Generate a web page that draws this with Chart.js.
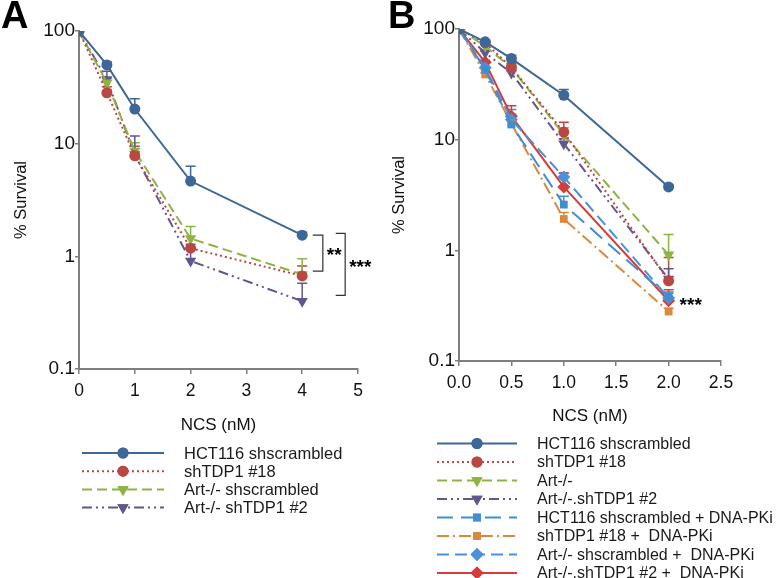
<!DOCTYPE html>
<html>
<head>
<meta charset="utf-8">
<script src="https://cdn.jsdelivr.net/npm/chart.js@4.4.1/dist/chart.umd.min.js"></script>
<style>
  body { margin: 0; background: #fff; width: 777px; height: 578px; overflow: hidden; position: relative; font-family: "Liberation Sans", Arial, sans-serif; }
  .wrap { position: absolute; top: 0; height: 578px; }
  .letter { position: absolute; top: -6px; font-size: 38px; font-weight: bold; color: #000; }
</style>
</head>
<body>
<div class="wrap" style="left:0;width:388px"><canvas id="chartA" width="388" height="578"></canvas></div>
<div class="wrap" style="left:388px;width:389px"><canvas id="chartB" width="389" height="578"></canvas></div>
<div class="letter" style="left:1px">A</div>
<div class="letter" style="left:388px">B</div>
<script>
// ---- data: panel A ----
var doseA = [0, 0.5, 1, 2, 4];
var labelsA = ["HCT116 shscrambled", "shTDP1 #18", "Art-/- shscrambled", "Art-/- shTDP1 #2"];
var hctA = [100, 50, 20.3, 4.66, 1.54];
var hctAerr = [100, 53, 25, 6.3, 1.64];
var tdpA = [100, 28.3, 7.8, 1.18, 0.67];
var tdpAerr = [100, 32, 9.5, 1.28, 0.82];
var artA = [100, 34.8, 8.6, 1.44, 0.69];
var artAerr = [100, 38, 10.2, 1.84, 0.95];
var arttdpA = [100, 37.2, 8.0, 0.91, 0.40];
var arttdpAerr = [100, 44, 11.7, 1.19, 0.576];
var xTicksA = [0, 1, 2, 3, 4, 5];

// ---- data: panel B ----
var doseB = [0, 0.25, 0.5, 1, 2];
var labelsB = ["HCT116 shscrambled", "shTDP1 #18", "Art-/-", "Art-/-.shTDP1 #2",
  "HCT116 shscrambled + DNA-PKi", "shTDP1 #18 +  DNA-PKi", "Art-/- shscrambled +  DNA-PKi", "Art-/-.shTDP1 #2 +  DNA-PKi"];
var hctB = [100, 76.6, 54, 25.2, 3.74];
var hctBerr = [100, 78, 58, 28.4, 3.9];
var tdpB = [100, 75, 45, 11.7, 0.53];
var tdpBerr = [100, 77, 49, 14.4, 0.86];
var artB = [100, 70, 44.6, 11.1, 0.91];
var artBerr = [100, 72, 47, 12.8, 1.39];
var arttdpB = [100, 61, 40, 9.2, 0.55];
var arttdpBerr = [100, 63, 42, 10.2, 0.68];
var hctPkB = [100, 43, 13.7, 2.59, 0.38];
var hctPkBerr = [100, 45, 18.7, 3.08, 0.42];
var tdpPkB = [100, 38.8, 14, 1.92, 0.28];
var tdpPkBerr = [100, 40, 15, 2.2, 0.3];
var artPkB = [100, 44.6, 15.2, 4.6, 0.37];
var artPkBerr = [100, 46, 17, 5.0, 0.41];
var arttdpPkB = [100, 50, 16.3, 3.74, 0.35];
var arttdpPkBerr = [100, 52, 20.3, 5.0, 0.44];
var xTicksB = [0, 0.5, 1, 1.5, 2, 2.5];

var yTicks = [0.1, 1, 10, 100];

// significance marks: [x of vertical, x where arms start, y top, y bottom, label]
var bracketsA = [[4.37, 4.19, 1.54, 0.74, "**"], [4.77, 4.6, 1.6, 0.45, "***"]];
var starsB = [[2.0, 0.35, "***"]];

var FONT = "'Liberation Sans', Arial, sans-serif";
var AXIS = "#7f7f7f";

function pts(xs, ys) { return xs.map(function(x, i) { return { x: x, y: ys[i] }; }); }

function ds(label, xs, ys, err, color, dash, style, radius, rot) {
  return {
    label: label, data: pts(xs, ys), err: err,
    borderColor: color, backgroundColor: color,
    borderWidth: 2, borderDash: dash,
    pointStyle: style, pointRadius: radius, pointRotation: rot || 0,
    pointBorderWidth: 0, pointBackgroundColor: color, pointBorderColor: color,
    tension: 0, fill: false
  };
}

// upward error bars
var errorBars = {
  id: "errorBars",
  beforeDatasetsDraw: function(chart) {
    var ctx = chart.ctx, xs = chart.scales.x, ys = chart.scales.y;
    ctx.save();
    chart.data.datasets.forEach(function(d) {
      if (!d.err) return;
      ctx.strokeStyle = d.borderColor;
      ctx.lineWidth = 1.5;
      ctx.setLineDash([]);
      d.data.forEach(function(p, i) {
        if (d.err[i] <= p.y) return;
        var px = xs.getPixelForValue(p.x);
        var y0 = ys.getPixelForValue(p.y), y1 = ys.getPixelForValue(d.err[i]);
        ctx.beginPath();
        ctx.moveTo(px, y0); ctx.lineTo(px, y1);
        ctx.moveTo(px - 5, y1); ctx.lineTo(px + 5, y1);
        ctx.stroke();
      });
    });
    ctx.restore();
  }
};

// legend rows below the axis title
var legendRows = {
  id: "legendRows",
  afterDraw: function(chart) {
    var o = chart.options.plugins.legendRows;
    var ctx = chart.ctx;
    ctx.save();
    chart.data.datasets.forEach(function(d, i) {
      var y = o.top + i * o.step;
      ctx.strokeStyle = d.borderColor;
      ctx.lineWidth = 2;
      ctx.setLineDash(d.borderDash || []);
      ctx.beginPath();
      ctx.moveTo(o.x1, y); ctx.lineTo(o.x2, y);
      ctx.stroke();
      ctx.setLineDash([]);
      ctx.fillStyle = d.borderColor;
      Chart.helpers.drawPoint(ctx, {
        pointStyle: d.pointStyle, radius: d.pointRadius, rotation: d.pointRotation, borderWidth: 0
      }, (o.x1 + o.x2) / 2, y);
      ctx.fill();
      ctx.fillStyle = "#1a1a1a";
      ctx.font = o.size + "px " + FONT;
      ctx.textBaseline = "middle";
      ctx.textAlign = "left";
      ctx.fillText(d.label, o.tx, y + 1);
    });
    ctx.restore();
  }
};

// significance brackets / stars
var sigMarks = {
  id: "sigMarks",
  afterDraw: function(chart) {
    var o = chart.options.plugins.sigMarks;
    var ctx = chart.ctx, xs = chart.scales.x, ys = chart.scales.y;
    ctx.save();
    ctx.font = "bold 19px " + FONT;
    ctx.fillStyle = "#000";
    ctx.textBaseline = "middle";
    ctx.textAlign = "left";
    (o.brackets || []).forEach(function(b) {
      var xv = xs.getPixelForValue(b[0]), xa = xs.getPixelForValue(b[1]);
      var yt = ys.getPixelForValue(b[2]), yb = ys.getPixelForValue(b[3]);
      ctx.strokeStyle = "#333";
      ctx.lineWidth = 1.2;
      ctx.beginPath();
      ctx.moveTo(xa, yt); ctx.lineTo(xv, yt); ctx.lineTo(xv, yb); ctx.lineTo(xa, yb);
      ctx.stroke();
      ctx.fillText(b[4], xv + 4, (yt + yb) / 2 + 3);
    });
    (o.stars || []).forEach(function(s) {
      ctx.fillText(s[2], xs.getPixelForValue(s[0]) + 11, ys.getPixelForValue(s[1]) + 5);
    });
    ctx.restore();
  }
};

function makeOptions(cfg) {
  return {
    responsive: false, animation: false,
    layout: { padding: { top: cfg.top, right: cfg.right, left: 0, bottom: cfg.bottom } },
    plugins: {
      legend: { display: false }, tooltip: { enabled: false },
      legendRows: cfg.legend, sigMarks: cfg.sig
    },
    scales: {
      x: {
        type: "linear", min: cfg.xTicks[0], max: cfg.xTicks[cfg.xTicks.length - 1],
        afterBuildTicks: function(s) { s.ticks = cfg.xTicks.map(function(v) { return { value: v }; }); },
        afterFit: function(s) { s.height = cfg.xHeight; },
        grid: { display: true, drawOnChartArea: false, drawTicks: true, tickLength: 5, color: AXIS, lineWidth: 1.5 },
        border: { color: AXIS, width: 2 },
        ticks: {
          color: "#111", font: { family: FONT, size: 17.5 }, padding: 7, maxRotation: 0,
          callback: function(v) { return cfg.xFmt(v); }
        },
        title: { display: true, text: "NCS (nM)", color: "#111", font: { family: FONT, size: 17 }, padding: 0 }
      },
      y: {
        type: "logarithmic", min: 0.1, max: 100,
        afterBuildTicks: function(s) { s.ticks = yTicks.map(function(v) { return { value: v }; }); },
        afterFit: function(s) { s.width = cfg.yWidth; },
        grid: { display: true, drawOnChartArea: false, drawTicks: true, tickLength: 4, color: AXIS, lineWidth: 1.5 },
        border: { color: AXIS, width: 2 },
        ticks: {
          color: "#111", font: { family: FONT, size: 19 }, padding: 0,
          callback: function(v) { return String(v); }
        },
        title: { display: true, text: "% Survival", color: "#111", font: { family: FONT, size: 16.5 }, padding: { top: cfg.yTitlePad, bottom: 0 } }
      }
    }
  };
}

new Chart("chartA", {
  type: "line",
  data: {
    datasets: [
      ds(labelsA[0], doseA, hctA, hctAerr, "#3c6796", [], "circle", 5.5),
      ds(labelsA[1], doseA, tdpA, tdpAerr, "#b94744", [2, 3], "circle", 5.5),
      ds(labelsA[2], doseA, artA, artAerr, "#8db443", [10, 5], "triangle", 6.5, 180),
      ds(labelsA[3], doseA, arttdpA, arttdpAerr, "#62568f", [10, 4, 2, 4, 2, 4], "triangle", 6.5, 180)
    ]
  },
  options: makeOptions({
    top: 31, right: 30, bottom: 142, xHeight: 67, yWidth: 79, yTitlePad: 12,
    xTicks: xTicksA, xFmt: function(v) { return String(v); },
    legend: { top: 453, step: 18.2, x1: 82, x2: 164, tx: 184, size: 16.5 },
    sig: { brackets: bracketsA }
  }),
  plugins: [errorBars, legendRows, sigMarks]
});

new Chart("chartB", {
  type: "line",
  data: {
    datasets: [
      ds(labelsB[0], doseB, hctB, hctBerr, "#3c6796", [], "circle", 5.5),
      ds(labelsB[1], doseB, tdpB, tdpBerr, "#b94744", [2, 3], "circle", 5.5),
      ds(labelsB[2], doseB, artB, artBerr, "#8db443", [10, 5], "triangle", 6.5, 180),
      ds(labelsB[3], doseB, arttdpB, arttdpBerr, "#62568f", [10, 4, 2, 4, 2, 4], "triangle", 6.5, 180),
      ds(labelsB[4], doseB, hctPkB, hctPkBerr, "#3f8ecf", [16, 8], "rect", 5.5),
      ds(labelsB[5], doseB, tdpPkB, tdpPkBerr, "#d9893d", [12, 4, 2, 4], "rect", 5.5),
      ds(labelsB[6], doseB, artPkB, artPkBerr, "#4a91d8", [12, 6], "rectRot", 6.5),
      ds(labelsB[7], doseB, arttdpPkB, arttdpPkBerr, "#d63c3c", [], "rectRot", 6.5)
    ]
  },
  options: makeOptions({
    top: 29, right: 56, bottom: 151, xHeight: 66, yWidth: 71, yTitlePad: 2,
    xTicks: xTicksB, xFmt: function(v) { return v.toFixed(1); },
    legend: { top: 443.5, step: 18.5, x1: 49, x2: 129, tx: 149, size: 16 },
    sig: { stars: starsB }
  }),
  plugins: [errorBars, legendRows, sigMarks]
});
</script>
</body>
</html>
